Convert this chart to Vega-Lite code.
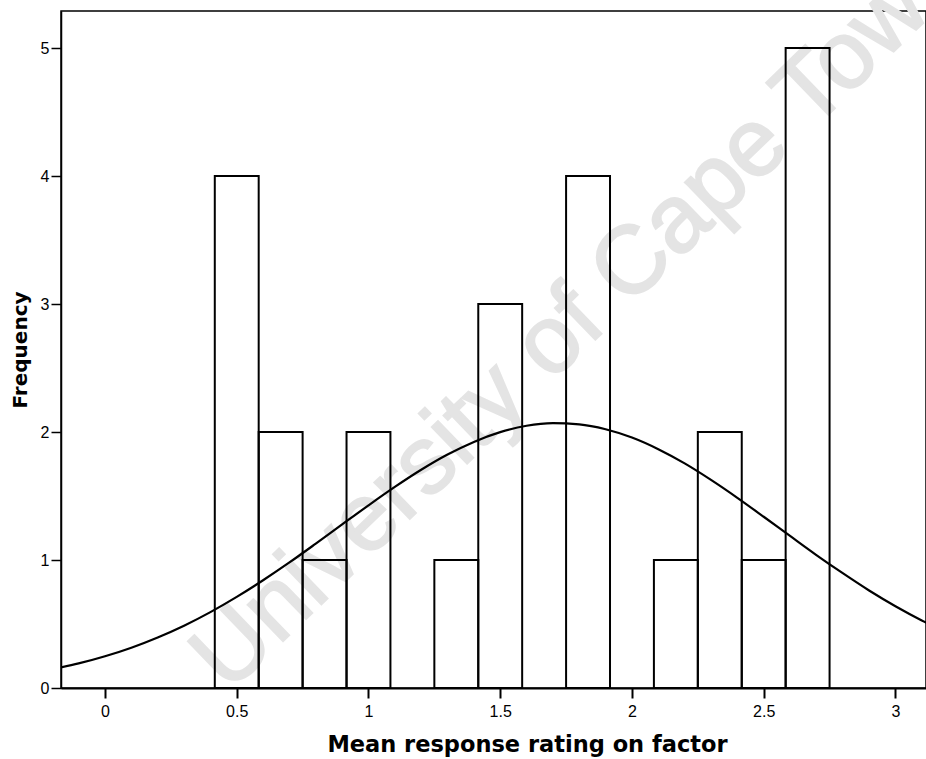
{
  "$schema": "https://vega.github.io/schema/vega-lite/v6.json",
  "width": 865,
  "height": 677,
  "autosize": "none",
  "padding": {"left": 61, "top": 11, "right": 0, "bottom": 71},
  "background": "white",
  "config": {
    "view": {"stroke": "black", "strokeWidth": 1.5},
    "axis": {
      "grid": false,
      "domainColor": "black",
      "tickColor": "black",
      "labelColor": "black",
      "labelFont": "Liberation Sans",
      "labelFontSize": 16,
      "titleFont": "DejaVu Sans",
      "titleFontWeight": "bold",
      "titleColor": "black"
    }
  },
  "datasets": {
    "bins": [
      {"lo": 0.4167, "hi": 0.5833, "count": 4},
      {"lo": 0.5833, "hi": 0.75, "count": 2},
      {"lo": 0.75, "hi": 0.9167, "count": 1},
      {"lo": 0.9167, "hi": 1.0833, "count": 2},
      {"lo": 1.25, "hi": 1.4167, "count": 1},
      {"lo": 1.4167, "hi": 1.5833, "count": 3},
      {"lo": 1.75, "hi": 1.9167, "count": 4},
      {"lo": 2.0833, "hi": 2.25, "count": 1},
      {"lo": 2.25, "hi": 2.4167, "count": 2},
      {"lo": 2.4167, "hi": 2.5833, "count": 1},
      {"lo": 2.5833, "hi": 2.75, "count": 5}
    ],
    "curve": [
      {"x": -0.17, "y": 0.160},
      {"x": -0.1, "y": 0.192},
      {"x": 0.0, "y": 0.248},
      {"x": 0.1, "y": 0.315},
      {"x": 0.2, "y": 0.395},
      {"x": 0.3, "y": 0.487},
      {"x": 0.4, "y": 0.593},
      {"x": 0.5, "y": 0.712},
      {"x": 0.6, "y": 0.842},
      {"x": 0.7, "y": 0.981},
      {"x": 0.8, "y": 1.128},
      {"x": 0.9, "y": 1.278},
      {"x": 1.0, "y": 1.427},
      {"x": 1.1, "y": 1.571},
      {"x": 1.2, "y": 1.705},
      {"x": 1.3, "y": 1.824},
      {"x": 1.4, "y": 1.923},
      {"x": 1.5, "y": 1.999},
      {"x": 1.6, "y": 2.049},
      {"x": 1.7, "y": 2.069},
      {"x": 1.8, "y": 2.060},
      {"x": 1.9, "y": 2.022},
      {"x": 2.0, "y": 1.957},
      {"x": 2.1, "y": 1.866},
      {"x": 2.2, "y": 1.755},
      {"x": 2.3, "y": 1.626},
      {"x": 2.4, "y": 1.486},
      {"x": 2.5, "y": 1.338},
      {"x": 2.6, "y": 1.188},
      {"x": 2.7, "y": 1.039},
      {"x": 2.8, "y": 0.897},
      {"x": 2.9, "y": 0.762},
      {"x": 3.0, "y": 0.639},
      {"x": 3.1, "y": 0.528},
      {"x": 3.2, "y": 0.430}
    ],
    "mark": [{"label": "University of Cape Town"}]
  },
  "layer": [
    {
      "data": {"name": "mark"},
      "mark": {
        "type": "text",
        "angle": -44,
        "fontSize": 96,
        "font": "Liberation Sans",
        "fontWeight": "normal",
        "color": "#e4e4e4",
        "stroke": "#e4e4e4",
        "strokeWidth": 2,
        "align": "center",
        "baseline": "alphabetic",
        "clip": false
      },
      "encoding": {
        "x": {"datum": 1.879, "type": "quantitative", "scale": {"domain": [-0.167, 3.116], "nice": false, "zero": false}},
        "y": {"datum": 2.758, "type": "quantitative", "scale": {"domain": [0, 5.29], "nice": false}},
        "text": {"field": "label", "type": "nominal"}
      }
    },
    {
      "data": {"name": "bins"},
      "mark": {"type": "bar", "fill": "white", "fillOpacity": 0, "stroke": "black", "strokeWidth": 2, "clip": true},
      "encoding": {
        "x": {
          "field": "lo", "type": "quantitative",
          "scale": {"domain": [-0.167, 3.116], "nice": false, "zero": false},
          "axis": {
            "values": [0, 0.5, 1, 1.5, 2, 2.5, 3],
            "format": "~g",
            "title": "Mean response rating on factor",
            "titleFontSize": 22.5,
            "titlePadding": 14,
            "titleX": 466,
            "titleAnchor": "start",
            "titleAlign": "center",
            "tickSize": 10,
            "tickWidth": 2,
            "domainWidth": 2,
            "labelPadding": 5
          }
        },
        "x2": {"field": "hi"},
        "y": {
          "field": "count", "type": "quantitative",
          "scale": {"domain": [0, 5.29], "nice": false},
          "axis": {
            "values": [0, 1, 2, 3, 4, 5],
            "format": "d",
            "title": "Frequency",
            "titleFontSize": 20,
            "titlePadding": 10,
            "tickSize": 10,
            "tickWidth": 1.5,
            "domainWidth": 1.5,
            "labelPadding": 2
          }
        },
        "y2": {"datum": 0}
      }
    },
    {
      "data": {"name": "curve"},
      "mark": {"type": "line", "color": "black", "strokeWidth": 2.2, "clip": true, "interpolate": "monotone"},
      "encoding": {
        "x": {"field": "x", "type": "quantitative"},
        "y": {"field": "y", "type": "quantitative"}
      }
    }
  ]
}
